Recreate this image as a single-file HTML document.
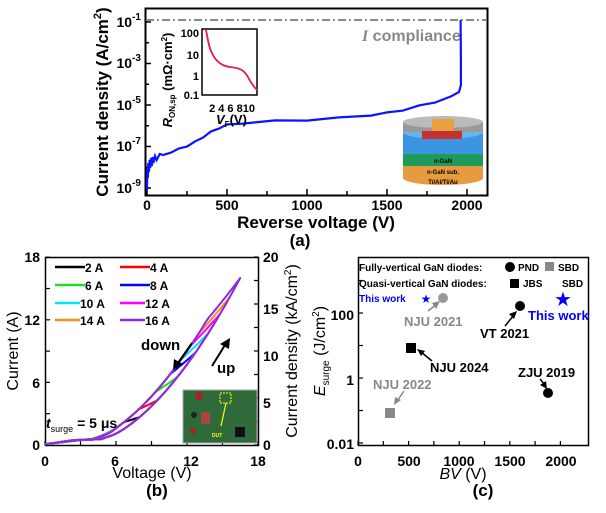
<!DOCTYPE html>
<html><head><meta charset="utf-8"><style>
body{margin:0;background:#fff}
svg{display:block;font-family:"Liberation Sans",sans-serif}
.b{font-weight:bold}
</style></head><body>
<svg id="s" width="606" height="513" viewBox="0 0 606 513" xmlns="http://www.w3.org/2000/svg">
<!-- Panel a -->
<rect x="145.5" y="8.5" width="342" height="187" fill="none" stroke="#000" stroke-width="2"/>
<line x1="146" y1="20" x2="487" y2="20" stroke="#888" stroke-width="2" stroke-dasharray="8,3,2,3"/>
<text x="362" y="41" font-size="16" class="b" fill="#888"><tspan font-style="italic" font-family="Liberation Serif">I</tspan> compliance</text>
<g id="tka" stroke="#000" stroke-width="1.5"></g>
<g class="b" font-size="14" text-anchor="end">
<text x="141" y="27">10<tspan font-size="10" dy="-7">-1</tspan></text>
<text x="141" y="68">10<tspan font-size="10" dy="-7">-3</tspan></text>
<text x="141" y="110">10<tspan font-size="10" dy="-7">-5</tspan></text>
<text x="141" y="151">10<tspan font-size="10" dy="-7">-7</tspan></text>
<text x="141" y="193">10<tspan font-size="10" dy="-7">-9</tspan></text>
</g>
<g class="b" font-size="14" text-anchor="middle">
<text x="147" y="210">0</text><text x="227" y="210">500</text><text x="307" y="210">1000</text><text x="387" y="210">1500</text><text x="467" y="210">2000</text>
<text x="316" y="228" font-size="17">Reverse voltage (V)</text>
<text x="300" y="246" font-size="17">(a)</text>
</g>
<text transform="translate(108,102) rotate(-90)" text-anchor="middle" class="b" font-size="17">Current density (A/cm<tspan font-size="11" dy="-7">2</tspan><tspan dy="7">)</tspan></text>
<path id="ca" fill="none" stroke="#0a14ff" stroke-width="2.2"/>
<!-- inset -->
<rect x="202" y="29" width="55" height="66" fill="#fff" stroke="#000" stroke-width="1.5"/>
<path d="M206,30 C208,40 209,48 212,53 C216,62 222,66 230,67 C240,68 244,70 248,77 C252,85 255,88 257,90" fill="none" stroke="#e02040" stroke-width="1.8"/>
<g class="b" font-size="11" text-anchor="end">
<text x="199" y="37">100</text><text x="199" y="59">10</text><text x="199" y="80">1</text><text x="199" y="99">0.1</text>
</g>
<text x="232" y="112" class="b" font-size="11" text-anchor="middle">2 4 6 810</text>
<text x="216" y="124" class="b" font-size="13"><tspan font-style="italic">V</tspan><tspan font-size="8" dy="3">F</tspan><tspan dy="-3">(V)</tspan></text>
<text transform="translate(172,80) rotate(-90)" text-anchor="middle" class="b" font-size="13"><tspan font-style="italic">R</tspan><tspan font-size="8" dy="3">ON,sp</tspan><tspan dy="-3"> (mΩ·cm</tspan><tspan font-size="8" dy="-5">2</tspan><tspan dy="5">)</tspan></text>
<!-- device -->
<g>
<ellipse cx="443" cy="178" rx="40" ry="7" fill="#e89a40"/>
<rect x="403" y="166" width="80" height="12" fill="#e89a40"/>
<rect x="403" y="154" width="80" height="12" fill="#1e9a5a"/>
<rect x="403" y="132" width="80" height="22" fill="#3c95e0"/>
<ellipse cx="443" cy="132" rx="40" ry="7" fill="#6ab4ee"/>
<rect x="403" y="122" width="80" height="10" fill="#999"/>
<ellipse cx="443" cy="122" rx="40" ry="6" fill="#bbb"/>
<rect x="432" y="119" width="22" height="12" fill="#e8a040"/>
<rect x="422" y="131" width="40" height="8" fill="#c83030"/>
<text x="443" y="163" font-size="6" class="b" fill="#000" text-anchor="middle">n-GaN</text>
<text x="443" y="174" font-size="6" class="b" fill="#000" text-anchor="middle">n-GaN sub.</text>
<text x="443" y="184" font-size="6" class="b" fill="#000" text-anchor="middle">Ti/Al/Ti/Au</text>
</g>
<!-- Panel b -->
<rect x="45.5" y="257.5" width="213" height="188" fill="none" stroke="#000" stroke-width="1.5"/>
<g id="tkb" stroke="#000" stroke-width="1.2"></g>
<g id="cb" fill="none" stroke-width="2"></g>
<g class="b" font-size="14" text-anchor="end">
<text x="40" y="262">18</text><text x="40" y="325">12</text><text x="40" y="388">6</text><text x="40" y="450">0</text>
</g>
<g class="b" font-size="14" text-anchor="start">
<text x="263" y="262">20</text><text x="263" y="314">15</text><text x="263" y="361">10</text><text x="263" y="408">5</text><text x="263" y="450">0</text>
</g>
<g class="b" font-size="14" text-anchor="middle">
<text x="45" y="466">0</text><text x="115" y="466">6</text><text x="191" y="466">12</text><text x="258" y="466">18</text>
</g>
<text x="152" y="478" font-size="16" text-anchor="middle">Voltage (V)</text>
<text x="157" y="496" font-size="17" class="b" text-anchor="middle">(b)</text>
<text transform="translate(18,351) rotate(-90)" font-size="16" text-anchor="middle">Current (A)</text>
<text transform="translate(297,351) rotate(-90)" font-size="16" text-anchor="middle">Current density (kA/cm<tspan font-size="10" dy="-6">2</tspan><tspan dy="6">)</tspan></text>
<g class="b" font-size="12">
<line x1="55" y1="267" x2="85" y2="267" stroke="#000" stroke-width="2.5"/><text x="85" y="272">2 A</text>
<line x1="120" y1="267" x2="150" y2="267" stroke="#ff0000" stroke-width="2.5"/><text x="150" y="272">4 A</text>
<line x1="55" y1="285" x2="85" y2="285" stroke="#22dd22" stroke-width="2.5"/><text x="85" y="290">6 A</text>
<line x1="120" y1="285" x2="150" y2="285" stroke="#0000ff" stroke-width="2.5"/><text x="150" y="290">8 A</text>
<line x1="55" y1="303" x2="80" y2="303" stroke="#00e5ff" stroke-width="2.5"/><text x="80" y="308">10 A</text>
<line x1="120" y1="303" x2="145" y2="303" stroke="#ff00ff" stroke-width="2.5"/><text x="145" y="308">12 A</text>
<line x1="55" y1="320" x2="80" y2="320" stroke="#ff8c1a" stroke-width="2.5"/><text x="80" y="325">14 A</text>
<line x1="120" y1="320" x2="145" y2="320" stroke="#8a2be2" stroke-width="2.5"/><text x="145" y="325">16 A</text>
</g>
<text x="141" y="350" font-size="15" class="b">down</text>
<text x="217" y="373" font-size="15" class="b">up</text>
<line x1="192" y1="343" x2="178" y2="363" stroke="#000" stroke-width="2"/><polygon points="173,370 174,359 183,364" fill="#000"/>
<line x1="212" y1="366" x2="225" y2="345" stroke="#000" stroke-width="2"/><polygon points="230,338 229,349 220,344" fill="#000"/>
<text x="46" y="428" font-size="14" class="b"><tspan font-style="italic">t</tspan><tspan font-size="9" font-weight="normal" dy="4">surge</tspan><tspan dy="-4"> = 5 μs</tspan></text>
<rect x="183" y="390" width="74" height="53" fill="#2f6b3a" stroke="#aaa"/>
<rect x="220" y="393" width="11" height="10" fill="none" stroke="#ff0" stroke-dasharray="2,1"/>
<line x1="226" y1="403" x2="221" y2="426" stroke="#ff0" stroke-width="1.2"/>
<circle cx="199" cy="396" r="4" fill="#a22"/><circle cx="194" cy="415" r="3" fill="#222"/><circle cx="193" cy="431" r="3" fill="#a22"/><rect x="201" y="412" width="9" height="12" fill="#a44"/><rect x="235" y="427" width="10" height="10" fill="#111"/>
<text x="212" y="437" font-size="5" fill="#ff0" class="b">DUT</text>
<!-- Panel c -->
<rect x="358.5" y="257.5" width="230" height="188" fill="none" stroke="#000" stroke-width="1.5"/>
<g id="tkc" stroke="#000" stroke-width="1.2"></g>
<g font-size="14" class="b" text-anchor="end">
<text x="354" y="320">100</text><text x="354" y="385">1</text><text x="354" y="449">0.01</text>
</g>
<g font-size="14" class="b" text-anchor="middle">
<text x="358" y="466">0</text><text x="409" y="466">500</text><text x="459" y="466">1000</text><text x="510" y="466">1500</text><text x="561" y="466">2000</text>
</g>
<text x="463" y="479" font-size="16" text-anchor="middle"><tspan font-style="italic">BV</tspan> (V)</text>
<text x="483" y="496" font-size="17" class="b" text-anchor="middle">(c)</text>
<text transform="translate(325,351) rotate(-90)" font-size="16" text-anchor="middle"><tspan font-style="italic">E</tspan><tspan font-size="10" dy="4">surge</tspan><tspan dy="-4"> (J/cm</tspan><tspan font-size="10" dy="-6">2</tspan><tspan dy="6">)</tspan></text>
<g class="b" font-size="10">
<text x="359" y="271">Fully-vertical GaN diodes:</text><circle cx="510" cy="267" r="5"/><text x="518" y="271">PND</text>
<rect x="545" y="262" width="9" height="9" fill="#888"/><text x="558" y="271">SBD</text>
<text x="359" y="287">Quasi-vertical GaN diodes:</text><rect x="510" y="279" width="9" height="9"/><text x="523" y="287">JBS</text><text x="562" y="287">SBD</text>
<text x="359" y="302" fill="#00f">This work</text>
</g>
<circle cx="443" cy="298" r="5" fill="#999"/>
<circle cx="520" cy="306" r="5"/>
<circle cx="548" cy="393" r="5"/>
<rect x="406" y="343" width="10" height="10"/>
<rect x="385" y="408" width="10" height="10" fill="#888"/>
<text x="426" y="303" font-size="12" text-anchor="middle" fill="#00f">★</text>
<text x="563" y="306" font-size="20" text-anchor="middle" fill="#00f">★</text>
<g class="b" font-size="13">
<text x="404" y="326" fill="#888">NJU 2021</text>
<text x="528" y="320" fill="#00f">This work</text>
<text x="480" y="338">VT 2021</text>
<text x="430" y="372">NJU 2024</text>
<text x="518" y="377">ZJU 2019</text>
<text x="373" y="389" fill="#888">NJU 2022</text>
</g>
<g stroke-width="1.5">
<line x1="428" y1="311" x2="437" y2="304" stroke="#888"/><polygon points="440,301 436,309 432,303" fill="#888"/>
<line x1="505" y1="326" x2="514" y2="315" stroke="#000"/><polygon points="517,311 514,319 509,314" fill="#000"/>
<line x1="432" y1="361" x2="421" y2="352" stroke="#000"/><polygon points="417,349 425,351 421,356" fill="#000"/>
<line x1="540" y1="379" x2="545" y2="385" stroke="#000"/><polygon points="547,389 540,385 546,381" fill="#000"/>
<line x1="404" y1="391" x2="397" y2="401" stroke="#888"/><polygon points="394,405 395,397 401,400" fill="#888"/>
</g>
</svg>
<script>
var NS="http://www.w3.org/2000/svg";
function L(g,x1,y1,x2,y2){var l=document.createElementNS(NS,"line");l.setAttribute("x1",x1);l.setAttribute("y1",y1);l.setAttribute("x2",x2);l.setAttribute("y2",y2);g.appendChild(l);}
var a=document.getElementById("tka");
for(var i=0;i<=8;i++){var x=147+i*40;L(a,x,195,x,i%2?191:189);}
for(var i=0;i<=8;i++){var y=22+i*20.75;L(a,146,y,i%2?149:151,y);}
var b=document.getElementById("tkb");
for(var i=0;i<=6;i++){var x=45+i*35.5;L(b,x,445,x,441);var y=445-i*31.3;L(b,46,y,50,y);}
for(var i=0;i<=8;i++){var y=445-i*23.5;L(b,258,y,254,y);}
var c=document.getElementById("tkc");
for(var i=0;i<=8;i++){var x=358+i*25.3;L(c,x,445,x,441);}
for(var i=0;i<=5;i++){var y=443-i*32.5;L(c,359,y,363,y);}
var pts=[[0,190],[2,168],[5,178],[8,163],[12,172],[16,160],[20,168],[25,158],[30,166],[35,157],[40,163],[50,156],[60,160],[80,154],[100,155],[150,152],[200,149],[250,146],[300,142],[350,137],[400,132],[450,128],[500,125],[600,123],[800,121],[1000,120],[1200,118],[1400,115],[1500,113],[1600,110],[1700,106],[1800,102],[1900,97],[1950,92],[1962,85],[1962,60],[1960,20]];
var d="";pts.forEach(function(p,i){var x=147+p[0]*0.16,y=p[1]+(p[0]>100&&p[0]<1950?(i%2?1:-1)*0.6:0);d+=(i?"L":"M")+x.toFixed(1)+","+y.toFixed(1);});
document.getElementById("ca").setAttribute("d",d);
function f(v){var h=v>3?16*Math.pow((v-3)/13.5,1.8):0;var l=0.4*Math.min(1,v/3);return Math.max(h,l)+0.15*Math.exp(-Math.pow(h-0.4,2)*4);}
var cols=["#000","#ff0000","#22dd22","#0000ff","#00e5ff","#ff00ff","#ff8c1a","#8a2be2"];
var peaks=[8,9.5,11.2,12.7,13.8,14.8,15.6,16.5];
var g=document.getElementById("cb");
function X(v){return 45+v*11.83;}function Y(i){return 445-i*10.44;}
peaks.forEach(function(vp,k){var s="",N=80;
 for(var t=0;t<=N;t++){var v=vp*t/N;s+=(t?"L":"M")+X(v).toFixed(1)+","+Y(f(v)).toFixed(1);}
 for(var t=N;t>=0;t--){var u=t/N;var v=vp*u;var sh=0.8*Math.min(1,(1-u)*6)*Math.min(1,u*2.5);s+="L"+X(v).toFixed(1)+","+Y(f(v+sh)).toFixed(1);}
 var e=document.createElementNS(NS,"path");e.setAttribute("d",s);e.setAttribute("stroke",cols[k]);e.setAttribute("stroke-linejoin","round");g.appendChild(e);});
</script>
</body></html>
